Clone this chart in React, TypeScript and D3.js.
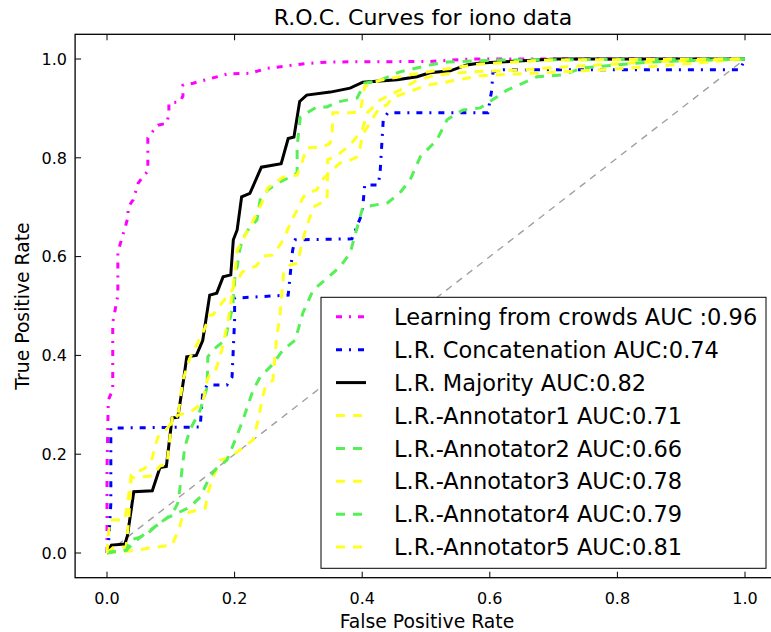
import React from "react";
import * as d3 from "d3";

// ROC points as [false positive rate, true positive rate]
const crowds: [number, number][] = [
  [0, 0], [0, 0.17], [0.002, 0.31], [0.009, 0.33], [0.009, 0.466], [0.017, 0.522], [0.017, 0.609],
  [0.025, 0.644], [0.033, 0.68], [0.033, 0.7], [0.041, 0.715], [0.049, 0.749], [0.056, 0.761],
  [0.064, 0.773], [0.064, 0.84], [0.072, 0.854], [0.08, 0.866], [0.094, 0.87], [0.097, 0.891],
  [0.097, 0.911], [0.114, 0.913], [0.119, 0.925], [0.119, 0.947], [0.135, 0.951], [0.161, 0.96],
  [0.19, 0.97], [0.224, 0.971], [0.251, 0.981], [0.282, 0.986], [0.313, 0.991], [0.35, 0.994],
  [0.506, 0.995], [0.569, 1], [1, 1],
];

const concatenation: [number, number][] = [
  [0, 0], [0.003, 0.03], [0.006, 0.1], [0.006, 0.253], [0.146, 0.255], [0.15, 0.324], [0.157, 0.34],
  [0.188, 0.34], [0.196, 0.356], [0.2, 0.472], [0.2, 0.516], [0.284, 0.522], [0.291, 0.613],
  [0.295, 0.634], [0.384, 0.636], [0.4, 0.688], [0.404, 0.745], [0.425, 0.745], [0.428, 0.769],
  [0.433, 0.877], [0.44, 0.891], [0.597, 0.891], [0.603, 0.937], [0.605, 0.974], [0.621, 0.978],
  [0.992, 0.978], [1, 1],
];

const majority: [number, number][] = [
  [0, 0], [0.007, 0.016], [0.028, 0.018], [0.032, 0.035], [0.042, 0.124], [0.071, 0.126],
  [0.083, 0.173], [0.093, 0.175], [0.102, 0.273], [0.111, 0.275], [0.12, 0.35], [0.125, 0.397],
  [0.14, 0.4], [0.15, 0.43], [0.161, 0.522], [0.172, 0.526], [0.182, 0.559], [0.194, 0.563],
  [0.198, 0.634], [0.204, 0.654], [0.211, 0.721], [0.224, 0.728], [0.242, 0.781], [0.273, 0.788],
  [0.284, 0.839], [0.293, 0.842], [0.302, 0.914], [0.313, 0.927], [0.35, 0.933], [0.381, 0.941],
  [0.401, 0.953], [0.455, 0.958], [0.486, 0.964], [0.506, 0.972], [0.538, 0.976], [0.564, 0.988],
  [0.585, 0.992], [0.705, 1], [1, 1],
];

const annotator1: [number, number][] = [
  [0, 0], [0.036, 0.004], [0.067, 0.01], [0.102, 0.016], [0.114, 0.053], [0.118, 0.073], [0.13, 0.083],
  [0.154, 0.091], [0.158, 0.121], [0.165, 0.148], [0.172, 0.172], [0.177, 0.188], [0.193, 0.194],
  [0.219, 0.219], [0.229, 0.229], [0.237, 0.269], [0.243, 0.31], [0.248, 0.336], [0.26, 0.35],
  [0.266, 0.437], [0.271, 0.478], [0.274, 0.526], [0.277, 0.567], [0.287, 0.583], [0.299, 0.587],
  [0.303, 0.613], [0.31, 0.648], [0.315, 0.668], [0.323, 0.7], [0.345, 0.715], [0.346, 0.796],
  [0.362, 0.806], [0.381, 0.826], [0.4, 0.856], [0.408, 0.891], [0.428, 0.917], [0.459, 0.937],
  [0.486, 0.957], [0.517, 0.968], [0.569, 0.974], [0.647, 0.978], [0.741, 0.986], [0.851, 0.994], [1, 1],
];

const annotator2: [number, number][] = [
  [0, 0], [0.03, 0.006], [0.052, 0.032], [0.075, 0.053], [0.094, 0.071], [0.114, 0.083], [0.13, 0.093],
  [0.146, 0.113], [0.161, 0.154], [0.172, 0.172], [0.188, 0.188], [0.201, 0.229], [0.213, 0.269],
  [0.229, 0.33], [0.24, 0.356], [0.259, 0.381], [0.276, 0.411], [0.295, 0.431], [0.307, 0.486],
  [0.323, 0.532], [0.365, 0.579], [0.381, 0.607], [0.401, 0.7], [0.44, 0.709], [0.459, 0.729],
  [0.475, 0.755], [0.491, 0.802], [0.517, 0.836], [0.533, 0.877], [0.558, 0.897], [0.585, 0.901],
  [0.611, 0.923], [0.627, 0.937], [0.652, 0.951], [0.674, 0.964], [0.715, 0.968], [0.746, 0.982],
  [0.851, 0.994], [1, 1],
];

const annotator3: [number, number][] = [
  [0, 0], [0.009, 0.01], [0.03, 0.012], [0.034, 0.067], [0.038, 0.152], [0.071, 0.156], [0.083, 0.176],
  [0.094, 0.18], [0.102, 0.273], [0.111, 0.277], [0.119, 0.35], [0.13, 0.395], [0.146, 0.435],
  [0.154, 0.457], [0.161, 0.482], [0.166, 0.482], [0.18, 0.506], [0.196, 0.532], [0.212, 0.569],
  [0.234, 0.581], [0.246, 0.601], [0.259, 0.603], [0.271, 0.623], [0.276, 0.634], [0.292, 0.68],
  [0.298, 0.694], [0.307, 0.719], [0.313, 0.729], [0.329, 0.735], [0.337, 0.755], [0.35, 0.771],
  [0.365, 0.789], [0.376, 0.792], [0.392, 0.802], [0.397, 0.822], [0.4, 0.846], [0.412, 0.87],
  [0.417, 0.881], [0.428, 0.903], [0.439, 0.907], [0.448, 0.923], [0.459, 0.927], [0.502, 0.947],
  [0.522, 0.951], [0.585, 0.966], [0.647, 0.97], [0.71, 0.974], [0.773, 0.978], [0.867, 0.986], [1, 1],
];

const annotator4: [number, number][] = [
  [0, 0], [0.005, 0.002], [0.031, 0.006], [0.036, 0.026], [0.052, 0.032], [0.064, 0.04], [0.075, 0.053],
  [0.094, 0.071], [0.103, 0.081], [0.111, 0.101], [0.114, 0.128], [0.118, 0.174], [0.122, 0.215],
  [0.13, 0.249], [0.146, 0.289], [0.157, 0.336], [0.158, 0.397], [0.166, 0.411], [0.185, 0.431],
  [0.197, 0.498], [0.201, 0.567], [0.204, 0.579], [0.208, 0.613], [0.212, 0.634], [0.224, 0.66],
  [0.235, 0.674], [0.24, 0.715], [0.252, 0.735], [0.271, 0.751], [0.287, 0.761], [0.298, 0.769],
  [0.298, 0.822], [0.303, 0.883], [0.329, 0.903], [0.345, 0.903], [0.361, 0.913], [0.392, 0.921],
  [0.404, 0.951], [0.428, 0.957], [0.459, 0.974], [0.506, 0.988], [0.533, 0.994], [0.616, 0.998], [1, 1],
];

const annotator5: [number, number][] = [
  [0, 0], [0.002, 0.036], [0.005, 0.067], [0.028, 0.067], [0.033, 0.107], [0.038, 0.158], [0.06, 0.172],
  [0.071, 0.192], [0.075, 0.215], [0.08, 0.235], [0.088, 0.243], [0.111, 0.279], [0.13, 0.285],
  [0.15, 0.304], [0.157, 0.35], [0.161, 0.36], [0.169, 0.364], [0.18, 0.411], [0.19, 0.472],
  [0.196, 0.522], [0.201, 0.573], [0.204, 0.613], [0.213, 0.634], [0.227, 0.668], [0.235, 0.688],
  [0.245, 0.715], [0.252, 0.739], [0.276, 0.761], [0.298, 0.765], [0.303, 0.781], [0.307, 0.796],
  [0.313, 0.82], [0.339, 0.822], [0.35, 0.83], [0.353, 0.85], [0.354, 0.891], [0.381, 0.891],
  [0.397, 0.893], [0.404, 0.945], [0.428, 0.957], [0.475, 0.968], [0.522, 0.978], [0.585, 0.99],
  [0.694, 0.998], [1, 1],
];

const chanceLine: [number, number][] = [[0, 0], [1, 1]];

const seriesLabels = [
  "Learning from crowds AUC :0.96",
  "L.R. Concatenation AUC:0.74",
  "L.R. Majority AUC:0.82",
  "L.R.-Annotator1 AUC:0.71",
  "L.R.-Annotator2 AUC:0.66",
  "L.R.-Annotator3 AUC:0.78",
  "L.R.-Annotator4 AUC:0.79",
  "L.R.-Annotator5 AUC:0.81",
];

const tickValues = [0, 0.2, 0.4, 0.6, 0.8, 1.0];

const MAGENTA = "#ff00ff";
const BLUE = "#0000ff";
const YELLOW = "#ffff22";
const GREEN = "#55f055";
const DASHDOT = "6,7,2,7";
const DASHED = "9,8";

const series = [
  { data: crowds, color: MAGENTA, dash: DASHDOT, label: seriesLabels[0] },
  { data: concatenation, color: BLUE, dash: DASHDOT, label: seriesLabels[1] },
  { data: majority, color: "#000000", dash: "none", label: seriesLabels[2] },
  { data: annotator1, color: YELLOW, dash: DASHED, label: seriesLabels[3] },
  { data: annotator2, color: GREEN, dash: DASHED, label: seriesLabels[4] },
  { data: annotator3, color: YELLOW, dash: DASHED, label: seriesLabels[5] },
  { data: annotator4, color: GREEN, dash: DASHED, label: seriesLabels[6] },
  { data: annotator5, color: YELLOW, dash: DASHED, label: seriesLabels[7] },
];

const W = 771;
const H = 632;
const FONT = "'DejaVu Sans', sans-serif";

export default function App() {
  const left = 75.1;
  const right = 776.9;
  const top = 34.3;
  const bottom = 577.7;

  const x = d3.scaleLinear().domain([-0.05, 1.05]).range([left, right]);
  const y = d3.scaleLinear().domain([-0.05, 1.05]).range([bottom, top]);
  const line = d3
    .line<[number, number]>()
    .x((d) => x(d[0]))
    .y((d) => y(d[1]));
  const fmt = d3.format(".1f");

  // legend box anchored at the lower right of the axes
  const legX = 321;
  const legY = 297.3;
  const legW = 445;
  const legH = 271;
  const rowGap = 32.9;
  const firstRow = 316.8;

  return (
    <svg
      width={W}
      height={H}
      style={{ position: "absolute", left: 0, top: 0, display: "block", background: "#fff" }}
      fontFamily={FONT}
    >
      <rect x={0} y={0} width={W} height={H} fill="#ffffff" />
      <defs>
        <clipPath id="plot-area">
          <rect x={left} y={top} width={right - left} height={bottom - top} />
        </clipPath>
      </defs>

      <g clipPath="url(#plot-area)">
        <path
          d={line(chanceLine) || ""}
          fill="none"
          stroke="#a0a0a0"
          strokeWidth={1.4}
          strokeDasharray="7,6"
        />
        {series.map((s, i) => (
          <path
            key={i}
            d={line(s.data) || ""}
            fill="none"
            stroke={s.color}
            strokeWidth={3}
            strokeDasharray={s.dash}
            strokeLinejoin="miter"
          />
        ))}
      </g>

      {/* axes frame */}
      <rect
        x={left}
        y={top}
        width={right - left}
        height={bottom - top}
        fill="none"
        stroke="#000"
        strokeWidth={1.3}
      />

      {/* ticks (pointing inward) and labels */}
      {tickValues.map((t) => (
        <g key={"x" + t}>
          <line x1={x(t)} x2={x(t)} y1={bottom} y2={bottom - 6} stroke="#000" strokeWidth={1} />
          <line x1={x(t)} x2={x(t)} y1={top} y2={top + 6} stroke="#000" strokeWidth={1} />
          <text x={x(t)} y={604} textAnchor="middle" fontSize={16} fill="#000">
            {fmt(t)}
          </text>
        </g>
      ))}
      {tickValues.map((t) => (
        <g key={"y" + t}>
          <line x1={left} x2={left + 6} y1={y(t)} y2={y(t)} stroke="#000" strokeWidth={1} />
          <text x={67} y={y(t) + 5.7} textAnchor="end" fontSize={16} fill="#000">
            {fmt(t)}
          </text>
        </g>
      ))}

      <text x={423} y={25} textAnchor="middle" fontSize={22} fill="#000">
        R.O.C. Curves for iono data
      </text>
      <text x={427} y={628} textAnchor="middle" fontSize={18.8} fill="#000">
        False Positive Rate
      </text>
      <text
        transform={`translate(29, ${(top + bottom) / 2}) rotate(-90)`}
        textAnchor="middle"
        fontSize={18.8}
        fill="#000"
      >
        True Positive Rate
      </text>

      {/* legend */}
      <rect x={legX} y={legY} width={legW} height={legH} fill="#fff" stroke="#000" strokeWidth={1} />
      {series.map((s, i) => {
        const cy = firstRow + i * rowGap;
        return (
          <g key={"leg" + i}>
            <line
              x1={336}
              x2={366}
              y1={cy}
              y2={cy}
              stroke={s.color}
              strokeWidth={3}
              strokeDasharray={s.dash}
            />
            <text x={394} y={cy + 8.1} fontSize={22.5} fill="#000">
              {s.label}
            </text>
          </g>
        );
      })}
    </svg>
  );
}
